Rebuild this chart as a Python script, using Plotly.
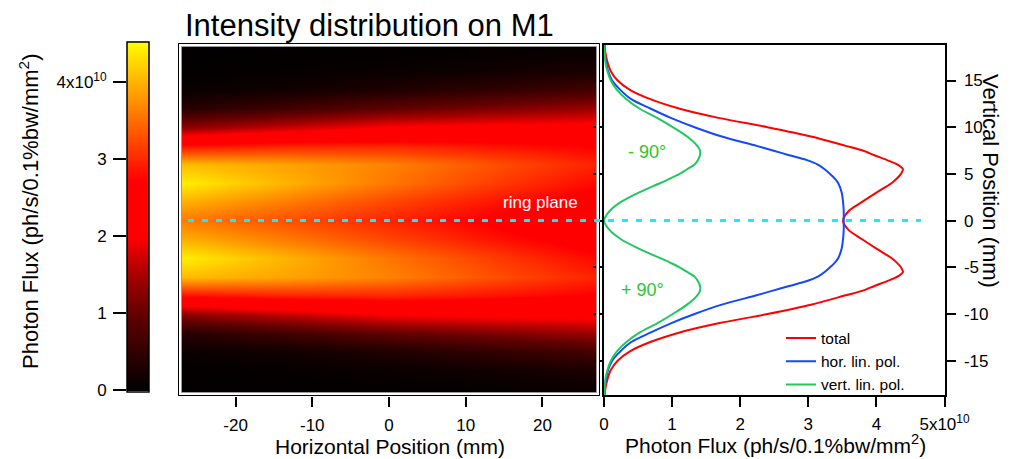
import plotly.graph_objects as go

W, H = 1012, 459
FONT = "Liberation Sans, Arial, Helvetica, sans-serif"

# ---- vertical flux profiles on M1 (flux in units of 1e10 ph/s/0.1%bw/mm^2) ----
vertical_mm = [-18.8, -18, -17, -16, -15, -14, -13, -12, -11, -10, -9, -8, -7.5, -7, -6.5,
               -6, -5.5, -5, -4.5, -4, -3, -2, -1, 0, 1, 2, 3, 4, 4.5, 5, 5.5, 6, 6.5,
               7, 7.5, 8, 9, 10, 11, 12, 13, 14, 15, 16, 17, 18, 18.8]

total_flux = [0.01, 0.02, 0.05, 0.10, 0.20, 0.38, 0.68, 1.10, 1.68, 2.40, 3.04, 3.55, 3.80, 3.97, 4.15,
              4.31, 4.39, 4.36, 4.30, 4.22, 4.00, 3.79, 3.59, 3.51, 3.59, 3.79, 4.00, 4.22, 4.30, 4.36,
              4.39, 4.31, 4.15, 3.97, 3.80, 3.55, 3.04, 2.40, 1.68, 1.10, 0.68, 0.38, 0.20, 0.10, 0.05,
              0.02, 0.01]

hor_flux = [0.005, 0.01, 0.03, 0.06, 0.12, 0.24, 0.40, 0.68, 0.98, 1.33, 1.73, 2.24, 2.48, 2.72, 2.97,
            3.14, 3.24, 3.32, 3.39, 3.44, 3.49, 3.51, 3.52, 3.52, 3.52, 3.51, 3.49, 3.44, 3.39, 3.32,
            3.24, 3.14, 2.97, 2.72, 2.48, 2.24, 1.73, 1.33, 0.98, 0.68, 0.40, 0.24, 0.12, 0.06, 0.03,
            0.01, 0.005]

vert_flux = [0.005, 0.01, 0.02, 0.05, 0.10, 0.19, 0.33, 0.52, 0.78, 1.01, 1.22, 1.37, 1.41, 1.41, 1.38,
             1.33, 1.22, 1.11, 0.97, 0.82, 0.51, 0.25, 0.08, 0.0, 0.08, 0.25, 0.51, 0.82, 0.97, 1.11,
             1.22, 1.33, 1.38, 1.41, 1.41, 1.37, 1.22, 1.01, 0.78, 0.52, 0.33, 0.19, 0.10, 0.05, 0.02,
             0.01, 0.005]

# ---- 2D footprint map on the mirror ----
map_x = [-27.5, -13.75, 0, 13.75, 27.5]          # horizontal position (mm)
map_y = [-18, -16, -14, -12, -10, -8, -6, -4, -2, 0, 2, 4, 6, 8, 10, 12, 14, 16, 18]
map_z = [
    [0.00, 0.00, 0.02, 0.04, 0.09],
    [0.01, 0.04, 0.08, 0.15, 0.26],
    [0.08, 0.16, 0.30, 0.49, 0.69],
    [0.35, 0.63, 0.93, 1.17, 1.40],
    [1.27, 1.65, 2.00, 2.10, 2.14],
    [2.83, 2.97, 2.99, 2.84, 2.69],
    [4.05, 3.87, 3.63, 3.27, 2.94],
    [4.43, 3.99, 3.55, 3.13, 2.75],
    [3.97, 3.59, 3.20, 2.84, 2.51],
    [3.60, 3.28, 2.96, 2.64, 2.36],
    [3.97, 3.59, 3.20, 2.84, 2.51],
    [4.43, 3.99, 3.55, 3.13, 2.75],
    [4.05, 3.87, 3.63, 3.27, 2.94],
    [2.83, 2.97, 2.99, 2.84, 2.69],
    [1.27, 1.65, 2.00, 2.10, 2.14],
    [0.35, 0.63, 0.93, 1.17, 1.40],
    [0.08, 0.16, 0.30, 0.49, 0.69],
    [0.01, 0.04, 0.08, 0.15, 0.26],
    [0.00, 0.00, 0.02, 0.04, 0.09],
]

flux_ticks = [0, 1, 2, 3, 4, 5]
flux_ticktext = ["0", "1", "2", "3", "4", "5x10<sup>10</sup>"]
cbar_ticks = [0, 1, 2, 3, 4]
cbar_ticktext = ["0", "1", "2", "3", "4x10<sup>10</sup>"]
hpos_ticks = [-20, -10, 0, 10, 20]
hpos_ticktext = ["-20", "-10", "0", "10", "20"]
vpos_ticks = [-15, -10, -5, 0, 5, 10, 15]
vpos_ticktext = ["-15", "-10", "-5", "0", "5", "10", "15"]

Z_MIN, Z_MAX = -0.02, 4.52

hot_scale = [
    [0.0, "#000000"],
    [0.22, "#640000"],
    [0.33, "#a80000"],
    [0.44, "#ff0000"],
    [0.60, "#ff0000"],
    [1.0, "#ffff00"],
]


def px_x(p):
    return p / W


def px_y(p):
    return 1 - p / H


fig = go.Figure()

fig.add_trace(go.Heatmap(
    x=map_x, y=map_y, z=map_z,
    colorscale=hot_scale, zmin=Z_MIN, zmax=Z_MAX, zsmooth="best",
    xaxis="x", yaxis="y", hoverinfo="skip",
    colorbar=dict(
        x=px_x(127), xanchor="left", xref="paper", xpad=0,
        y=px_y(391.5), yanchor="bottom", yref="paper", ypad=0,
        len=(391.5 - 41.7) / H, lenmode="fraction",
        thickness=22, thicknessmode="pixels",
        outlinewidth=1.5, outlinecolor="black",
        showticklabels=False, ticks="",
    ),
))

line_styles = [
    ("total", total_flux, "#ff0000"),
    ("hor. lin. pol.", hor_flux, "#1448ff"),
    ("vert. lin. pol.", vert_flux, "#20c860"),
]
for name, vals, col in line_styles:
    fig.add_trace(go.Scatter(
        x=vals, y=vertical_mm, mode="lines", name=name,
        line=dict(color=col, width=2, shape="spline", smoothing=0.8),
        xaxis="x2", yaxis="y2",
    ))

# empty trace so the colour-bar axis subplot exists
fig.add_trace(go.Scatter(x=[None], y=[None], xaxis="x3", yaxis="y3",
                         showlegend=False, hoverinfo="skip"))

tickfont = dict(family=FONT, size=17, color="black")

fig.update_layout(
    width=W, height=H,
    margin=dict(l=0, r=0, t=0, b=0, pad=0, autoexpand=False),
    paper_bgcolor="white", plot_bgcolor="white",
    font=dict(family=FONT, color="black"),
    showlegend=True,
    legend=dict(
        x=px_x(781), y=px_y(321.5), xanchor="left", yanchor="top",
        bgcolor="rgba(0,0,0,0)", font=dict(family=FONT, size=15.5, color="black"),
        tracegroupgap=0,
    ),
    xaxis=dict(
        domain=[px_x(178), px_x(600)], range=[-27.5, 27.5], anchor="y",
        tickvals=hpos_ticks, ticktext=hpos_ticktext,
        ticks="outside", ticklen=10, tickwidth=1.5, tickcolor="black", ticklabelstandoff=4,
        showline=False, showgrid=False, zeroline=False, tickfont=tickfont,
    ),
    yaxis=dict(
        domain=[px_y(396), px_y(43)], range=[(220.6 - 396) / 9.34, (220.6 - 43) / 9.34],
        anchor="x", showticklabels=False, ticks="", showline=False,
        showgrid=False, zeroline=False,
    ),
    xaxis2=dict(
        domain=[px_x(604), px_x(944.5)], range=[0, 5], anchor="y2",
        tickvals=flux_ticks, ticktext=flux_ticktext,
        ticks="outside", ticklen=10, tickwidth=1.5, tickcolor="black", ticklabelstandoff=3,
        showline=True, linewidth=2, linecolor="black", mirror=True,
        showgrid=False, zeroline=False, tickfont=tickfont,
    ),
    yaxis2=dict(
        domain=[px_y(395), px_y(45)], range=[(220.6 - 395) / 9.34, (220.6 - 45) / 9.34],
        anchor="x2", side="right",
        tickvals=vpos_ticks, ticktext=vpos_ticktext,
        ticks="outside", ticklen=9, tickwidth=1.5, tickcolor="black", ticklabelstandoff=5,
        showline=True, linewidth=2, linecolor="black", mirror="ticks",
        showgrid=False, zeroline=False, tickfont=tickfont,
    ),
    xaxis3=dict(domain=[px_x(127), px_x(149.5)], range=[0, 1], anchor="y3", visible=False),
    yaxis3=dict(
        domain=[px_y(391.5), px_y(41.7)], range=[Z_MIN, Z_MAX], anchor="x3", side="left",
        tickvals=cbar_ticks, ticktext=cbar_ticktext,
        ticks="outside", ticklen=13, tickwidth=1.5, tickcolor="black", ticklabelstandoff=3,
        showline=False, showgrid=False, zeroline=False, tickfont=tickfont,
    ),
)

# image frame around the footprint map
fig.add_shape(type="rect", xref="paper", yref="paper",
              x0=px_x(180), x1=px_x(598), y0=px_y(394), y1=px_y(45),
              line=dict(color="white", width=3))
fig.add_shape(type="rect", xref="paper", yref="paper",
              x0=px_x(178.5), x1=px_x(599.5), y0=px_y(395.5), y1=px_y(43.5),
              line=dict(color="black", width=1))
fig.add_shape(type="rect", xref="paper", yref="paper",
              x0=px_x(181.5), x1=px_x(596.5), y0=px_y(392.5), y1=px_y(46.5),
              line=dict(color="#9a9a9a", width=1))

# ring plane marker at zero vertical position
fig.add_shape(type="line", xref="paper", yref="y2",
              x0=px_x(188), x1=px_x(921), y0=0, y1=0,
              line=dict(color="#1ee8ff", width=3, dash="6px,8px"))

ann = [
    dict(text="Intensity distribution on M1", x=px_x(183), y=px_y(26), xref="paper", yref="paper",
         xanchor="left", yanchor="middle", font=dict(size=31)),
    dict(text="Horizontal Position (mm)", x=px_x(389.5), y=px_y(446), xref="paper", yref="paper",
         xanchor="center", yanchor="middle", font=dict(size=21)),
    dict(text="Photon Flux (ph/s/0.1%bw/mm<sup>2</sup>)", x=px_x(775), y=px_y(444), xref="paper",
         yref="paper", xanchor="center", yanchor="middle", font=dict(size=21)),
    dict(text="Vertical Position (mm)", x=px_x(991), y=px_y(181), xref="paper", yref="paper",
         xanchor="center", yanchor="middle", textangle=90, font=dict(size=22)),
    dict(text="Photon Flux (ph/s/0.1%bw/mm<sup>2</sup>)", x=px_x(29), y=px_y(212), xref="paper",
         yref="paper", xanchor="center", yanchor="middle", textangle=-90, font=dict(size=22)),
    dict(text="- 90°", x=0.63, y=7.3, xref="x2", yref="y2", xanchor="center", yanchor="middle",
         font=dict(size=18, color="#2cc52c")),
    dict(text="+ 90°", x=0.56, y=-7.4, xref="x2", yref="y2", xanchor="center", yanchor="middle",
         font=dict(size=18, color="#2cc52c")),
    dict(text="ring plane", x=19.8, y=1.9, xref="x", yref="y", xanchor="center", yanchor="middle",
         font=dict(size=17, color="white")),
]
for a in ann:
    a.setdefault("showarrow", False)
    a["font"].setdefault("family", FONT)
    a["font"].setdefault("color", "black")
    fig.add_annotation(**a)

fig.write_html("out.html")
